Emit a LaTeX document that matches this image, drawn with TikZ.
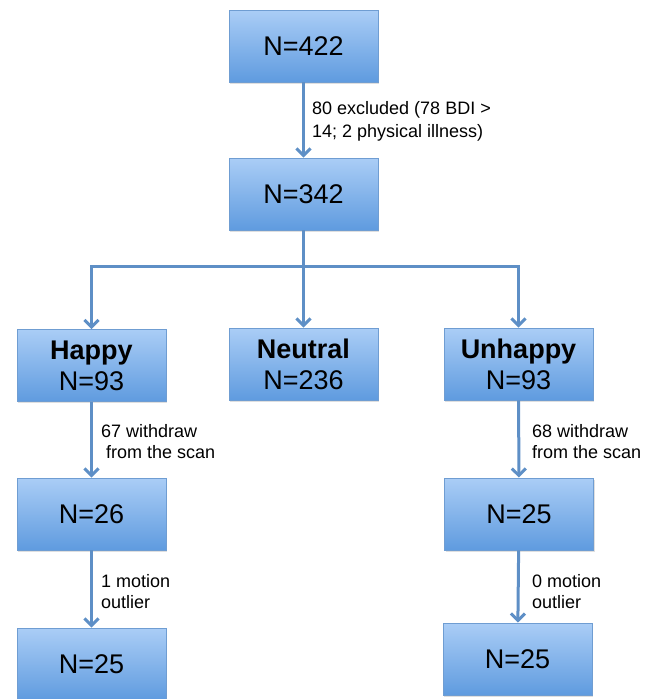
\documentclass[tikz,border=0pt]{standalone}
\usepackage{fontspec}
\setmainfont{Liberation Sans}
\usetikzlibrary{arrows.meta,shadows}
\definecolor{boxtop}{HTML}{AACDF6}
\definecolor{boxbot}{HTML}{5F9BDF}
\definecolor{boxedge}{HTML}{6F9DD2}
\definecolor{flow}{HTML}{5E8FC6}

\begin{document}
\begin{tikzpicture}[x=1pt,y=-1pt,
    box/.style={draw=boxedge,line width=0.8pt,top color=boxtop,bottom color=boxbot,
        minimum width=149pt,minimum height=72pt,inner sep=0pt,align=center,
        font=\fontsize{27}{31}\selectfont,
        drop shadow={opacity=0.25,shadow xshift=1pt,shadow yshift=-1.5pt}},
    note/.style={anchor=west,inner sep=0pt,align=left,font=\fontsize{18}{21}\selectfont},
    flowline/.style={draw=flow,line width=3pt},
    flowarrow/.style={flowline,-{Straight Barb[length=7pt,width=14pt]}}]
    \useasboundingbox (0,0) rectangle (653,699);

    % boxes
    \node[box] (n422) at (303.5,46) {N=422};
    \node[box] (n342) at (303.5,194) {N=342};
    \node[box] (happy) at (91.5,365.5) {\textbf{Happy}\\N=93};
    \node[box] (neutral) at (303.5,364) {\textbf{Neutral}\\N=236};
    \node[box] (unhappy) at (518.5,364) {\textbf{Unhappy}\\N=93};
    \node[box] (happyscan) at (91.5,514) {N=26};
    \node[box] (happymotion) at (91.5,664) {N=25};
    \node[box] (unhappyscan) at (519,514) {N=25};
    \node[box] (unhappymotion) at (517.5,659) {N=25};

    % connectors
    \coordinate (split) at (303.5,266);
    \draw[flowarrow] (n422) -- (n342);
    \draw[flowline] (n342) -- (split);
    \draw[flowarrow] (split) -| (happy);
    \draw[flowarrow] (split) -- (neutral);
    \draw[flowarrow] (split) -| (unhappy);
    \draw[flowarrow] (happy) -- (happyscan);
    \draw[flowarrow] (happyscan) -- (happymotion);
    \draw[flowarrow] (unhappy) -- (unhappyscan);
    \draw[flowarrow] (unhappyscan) -- (unhappymotion);

    % labels
    \node[note,font=\fontsize{18}{23}\selectfont] (excl) at (312,121.5) {80 excluded (78 BDI >\\14; 2 physical illness)};
    \node[note] (happywd) at (101,442) {67 withdraw\\\hspace*{5pt}from the scan};
    \node[note] (unhappywd) at (532,442) {68 withdraw\\from the scan};
    \node[note] (happyout) at (101,591.5) {1 motion\\outlier};
    \node[note] (unhappyout) at (532,591.5) {0 motion\\outlier};
\end{tikzpicture}
\end{document}
